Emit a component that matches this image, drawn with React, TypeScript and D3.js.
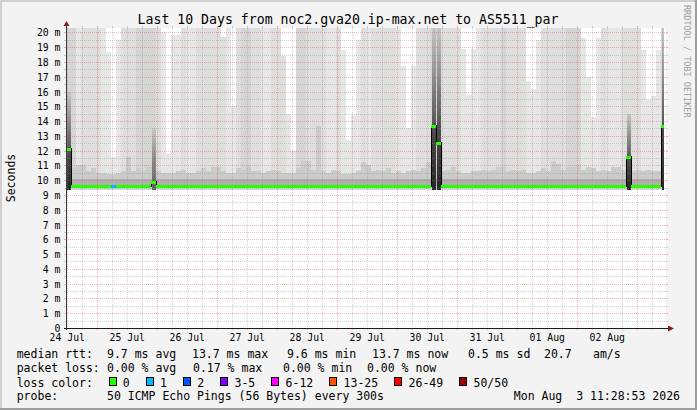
import * as d3 from 'd3';

// 10 days, one value per 2 hour step
const START = new Date(2026, 6, 24, 11, 28, 53);
const END = new Date(2026, 7, 3, 11, 28, 53);
const STEP_HOURS = 2;

// median rtt per step (ms)
const medianMs = [
  12.1, 9.6, 9.6, 9.6, 9.6, 9.6, 9.6, 9.6, 9.6, 9.6,
  9.6, 9.6, 9.6, 9.6, 9.6, 9.6, 9.6, 9.9, 9.6, 9.6,
  9.6, 9.6, 9.6, 9.6, 9.6, 9.6, 9.6, 9.6, 9.6, 9.6,
  9.6, 9.6, 9.6, 9.6, 9.6, 9.6, 9.6, 9.6, 9.6, 9.6,
  9.6, 9.6, 9.6, 9.6, 9.6, 9.6, 9.6, 9.6, 9.6, 9.6,
  9.6, 9.6, 9.6, 9.6, 9.6, 9.6, 9.6, 9.6, 9.6, 9.6,
  9.6, 9.6, 9.6, 9.6, 9.6, 9.6, 9.6, 9.6, 9.6, 9.6,
  9.6, 9.6, 9.6, 13.7, 12.5, 9.6, 9.6, 9.6, 9.6, 9.6,
  9.6, 9.6, 9.6, 9.6, 9.6, 9.6, 9.6, 9.6, 9.6, 9.6,
  9.6, 9.6, 9.6, 9.6, 9.6, 9.6, 9.6, 9.6, 9.6, 9.6,
  9.6, 9.6, 9.6, 9.6, 9.6, 9.6, 9.6, 9.6, 9.6, 9.6,
  9.6, 9.6, 11.6, 9.6, 9.6, 9.6, 9.6, 9.6, 9.6, 13.7,
];

// highest ping per step (ms); 21 = above the top of the graph
const maxPingMs = [
  21, 21, 21, 21, 21, 21, 21, 21, 18.7, 11.6,
  19.5, 21, 21, 21, 21, 21, 21, 21, 21, 20.0,
  11.8, 19.8, 19.8, 21, 21, 21, 21, 21, 21, 21,
  21, 19.7, 21, 15.0, 21, 21, 21, 21, 21, 21,
  21, 21, 21, 18.4, 14.5, 12.0, 21, 21, 21, 21,
  21, 21, 21, 21, 21, 18.8, 12.7, 14.4, 19.5, 21,
  21, 21, 21, 21, 21, 21, 21, 17.7, 13.5, 17.7,
  21, 21, 21, 21, 21, 21, 21, 21, 21, 18.9,
  15.8, 18.9, 21, 21, 21, 21, 21, 21, 21, 21,
  21, 21, 16.7, 16.2, 19.5, 21, 21, 21, 21, 21,
  21, 21, 21, 19.6, 17.0, 14.3, 19.6, 21, 21, 21,
  21, 21, 21, 21, 21, 18.8, 15.4, 15.7, 18.8, 21,
];

// shade of the upper smoke: 0 light, 1 mid, 2 dark
const smokeTone = [
  2, 2, 0, 1, 1, 1, 1, 0, 0, 0,
  0, 1, 1, 1, 2, 2, 2, 2, 1, 0,
  0, 0, 0, 1, 0, 0, 1, 1, 1, 1,
  1, 1, 0, 0, 1, 2, 2, 1, 1, 0,
  0, 1, 1, 1, 0, 0, 2, 2, 1, 1,
  1, 1, 0, 0, 1, 0, 0, 0, 0, 1,
  0, 1, 1, 1, 1, 1, 0, 0, 0, 0,
  1, 1, 1, 2, 2, 1, 1, 1, 1, 0,
  0, 0, 0, 1, 1, 1, 1, 2, 1, 1,
  1, 1, 0, 0, 0, 1, 1, 1, 1, 1,
  2, 2, 2, 0, 0, 0, 0, 1, 0, 0,
  0, 1, 1, 1, 1, 0, 0, 0, 0, 2,
];

// top of the dense smoke near the median (ms)
const denseTopMs = [
  11.0, 10.8, 11.0, 11.0, 10.6, 10.8, 10.5, 10.5, 10.4, 10.4,
  10.5, 10.6, 11.6, 10.6, 10.8, 10.6, 10.9, 10.9, 10.6, 10.5,
  10.5, 10.5, 10.6, 10.7, 10.5, 10.5, 10.6, 10.8, 10.6, 10.9,
  10.9, 10.6, 10.5, 10.5, 10.8, 10.7, 11.0, 10.6, 10.6, 10.5,
  10.6, 10.7, 10.6, 10.5, 10.5, 10.5, 10.8, 11.3, 11.3, 10.7,
  13.7, 10.6, 10.5, 10.7, 10.6, 10.4, 10.4, 10.5, 10.6, 11.2,
  11.0, 10.6, 10.7, 10.6, 10.8, 10.5, 10.6, 10.5, 10.6, 10.7,
  10.6, 10.8, 11.2, 10.8, 10.8, 10.6, 10.7, 10.9, 10.6, 10.5,
  10.5, 10.6, 10.6, 10.7, 10.6, 10.7, 10.9, 10.9, 10.6, 10.7,
  10.6, 10.7, 10.5, 10.5, 10.6, 10.8, 10.6, 11.3, 11.1, 10.7,
  10.9, 10.9, 11.0, 10.7, 10.9, 10.8, 10.6, 10.7, 10.6, 10.9,
  10.9, 10.7, 10.6, 10.6, 10.7, 10.6, 10.7, 10.6, 10.6, 10.8,
];

// loss class per step (index into lossColors)
const lossClass = [
  0, 0, 0, 0, 0, 0, 0, 0, 0, 1,
  0, 0, 0, 0, 0, 0, 0, 0, 0, 0,
  0, 0, 0, 0, 0, 0, 0, 0, 0, 0,
  0, 0, 0, 0, 0, 0, 0, 0, 0, 0,
  0, 0, 0, 0, 0, 0, 0, 0, 0, 0,
  0, 0, 0, 0, 0, 0, 0, 0, 0, 0,
  0, 0, 0, 0, 0, 0, 0, 0, 0, 0,
  0, 0, 0, 0, 0, 0, 0, 0, 0, 0,
  0, 0, 0, 0, 0, 0, 0, 0, 0, 0,
  0, 0, 0, 0, 0, 0, 0, 0, 0, 0,
  0, 0, 0, 0, 0, 0, 0, 0, 0, 0,
  0, 0, 0, 0, 0, 0, 0, 0, 0, 0,
];

// steps where the whole ping spread went up (shade 0 dark, 1 soft)
const spikeSteps = [0, 17, 73, 74, 112, 119];
const spikeTopMs = [16.0, 13.5, 21, 21, 14.5, 21];
const spikeShade = [0, 1, 0, 0, 0, 0];

const yTickLabels = ['0', '1 m', '2 m', '3 m', '4 m', '5 m', '6 m', '7 m', '8 m', '9 m', '10 m',
  '11 m', '12 m', '13 m', '14 m', '15 m', '16 m', '17 m', '18 m', '19 m', '20 m'];
const xTickLabels = ['24 Jul', '25 Jul', '26 Jul', '27 Jul', '28 Jul', '29 Jul', '30 Jul', '31 Jul', '01 Aug', '02 Aug'];

const lossLabels = ['0', '1', '2', '3-5', '6-12', '13-25', '26-49', '50/50'];
const lossColors = ['#26ff00', '#00b8ff', '#0059ff', '#7e00ff', '#ff00ff', '#ff5500', '#ff0000', '#a10000'];

const rttItems = ['median rtt:', '9.7 ms avg', '13.7 ms max', '9.6 ms min', '13.7 ms now', '0.5 ms sd', '20.7', 'am/s'];
const lossItems = ['packet loss:', '0.00 % avg', '0.17 % max', '0.00 % min', '0.00 % now'];
const probeText = '50 ICMP Echo Pings (56 Bytes) every 300s';
const stampText = 'Mon Aug  3 11:28:53 2026';
const titleText = 'Last 10 Days from noc2.gva20.ip-max.net to AS5511_par';

const FONT = '"DejaVu Sans Mono", monospace';
const toneFill = ['#e6e6e6', '#dedede', '#d5d5d5'];
const rttX = [16.7, 107, 192, 287, 372, 468, 544, 593];
const lossX = [16.7, 107, 193, 283, 367];

export default function App() {
  const W = 697, H = 410;
  const L = 66, R = 666, T = 28, B = 328;
  const YMAX = 20.3;
  const CW = 6.93;

  const x = d3.scaleTime().domain([START, END]).range([L, R]);
  const y = d3.scaleLinear().domain([0, YMAX]).range([B, T]);
  const bx = (i: number) => Math.round(x(d3.timeHour.offset(START, STEP_HOURS * i)));
  const py = (v: number) => Math.round(y(Math.min(v, YMAX)));
  const hy = (v: number) => Math.round(y(v)) + 0.5;

  const base = 9.6;
  const lowMs = 9.35;

  // grid
  const minorH = d3.range(0.5, YMAX, 0.5).filter(v => v % 1 !== 0);
  const majorH = d3.range(1, YMAX, 1);
  const majorV = d3.timeDay.range(START, END);
  const minorV = d3.timeHour.every(6)!.range(START, END).filter(t => t.getHours() !== 0);
  const vx = (t: Date) => Math.round(x(t)) + 0.5;

  const gridC = 'rgba(140,140,140,0.4)';
  const mgridC = 'rgba(224,80,80,0.42)';

  // legend boxes
  const boxX: number[] = [];
  let bxPos = 108.5;
  lossLabels.forEach(l => { boxX.push(bxPos); bxPos += 14.3 + l.length * CW + 16; });

  const day0 = d3.timeDay.floor(START);

  return (
    <svg width={W} height={H} style={{ position: 'absolute', left: 0, top: 0, display: 'block' }}
      fontFamily={FONT}>
      <defs>
        <linearGradient id="spike0" x1="0" y1="1" x2="0" y2="0">
          <stop offset="0" stopColor="#262626" />
          <stop offset="0.35" stopColor="#4a4a4a" />
          <stop offset="0.7" stopColor="#8e8e8e" />
          <stop offset="1" stopColor="#c6c6c6" />
        </linearGradient>
        <linearGradient id="spike1" x1="0" y1="1" x2="0" y2="0">
          <stop offset="0" stopColor="#606060" />
          <stop offset="0.5" stopColor="#8a8a8a" />
          <stop offset="1" stopColor="#c8c8c8" />
        </linearGradient>
        <clipPath id="plot">
          <rect x={L} y={T} width={664 - L} height={B - T} />
        </clipPath>
      </defs>

      {/* frame */}
      <rect x={0} y={0} width={W} height={H} fill="#f3f3f3" />
      <rect x={0} y={0} width={W} height={2} fill="#cfcfcf" />
      <rect x={0} y={0} width={2} height={H} fill="#cfcfcf" />
      <rect x={0} y={H - 2} width={W} height={2} fill="#9e9e9e" />
      <rect x={W - 2} y={0} width={2} height={H} fill="#9e9e9e" />

      {/* canvas */}
      <rect x={L} y={T} width={R - L} height={B - T} fill="#ffffff" />

      {/* smoke */}
      <g clipPath="url(#plot)" shapeRendering="crispEdges">
        {medianMs.map((_, i) => {
          const x0 = bx(i), x1 = bx(i + 1);
          return (
            <g key={i}>
              <rect x={x0} y={py(base)} width={x1 - x0} height={py(lowMs) - py(base)} fill="#d6d6d6" />
              <rect x={x0} y={py(maxPingMs[i])} width={x1 - x0} height={py(base) - py(maxPingMs[i])}
                fill={toneFill[smokeTone[i]]} />
              <rect x={x0} y={py(denseTopMs[i])} width={x1 - x0} height={py(base) - py(denseTopMs[i])}
                fill="#cbcbcb" />
              <rect x={x0} y={py(10.05)} width={x1 - x0} height={py(base) - py(10.05)} fill="#b0b0b0" />
            </g>
          );
        })}
        {spikeSteps.map((s, k) => (
          <rect key={'s' + k} x={bx(s) + 1} y={py(spikeTopMs[k])} width={bx(s + 1) - bx(s) - 1}
            height={py(lowMs) - py(spikeTopMs[k])} fill={`url(#spike${spikeShade[k]})`} />
        ))}
      </g>

      {/* grid */}
      <g shapeRendering="crispEdges" strokeWidth={1}>
        {minorH.map(v => (
          <g key={'mh' + v}>
            <line x1={L} x2={R} y1={hy(v)} y2={hy(v)} stroke={gridC} strokeDasharray="1 1" />
            <line x1={L - 2} x2={L} y1={hy(v)} y2={hy(v)} stroke={gridC} />
            <line x1={R} x2={R + 2} y1={hy(v)} y2={hy(v)} stroke={gridC} />
          </g>
        ))}
        {minorV.map(t => (
          <g key={'mv' + t.getTime()}>
            <line x1={vx(t)} x2={vx(t)} y1={T} y2={B} stroke={gridC} strokeDasharray="1 1" />
            <line x1={vx(t)} x2={vx(t)} y1={B} y2={B + 2} stroke={gridC} />
            <line x1={vx(t)} x2={vx(t)} y1={T - 2} y2={T} stroke={gridC} />
          </g>
        ))}
        {majorH.map(v => (
          <g key={'Mh' + v}>
            <line x1={L} x2={R} y1={hy(v)} y2={hy(v)} stroke={mgridC} strokeDasharray="1 1" />
            <line x1={L - 2} x2={L} y1={hy(v)} y2={hy(v)} stroke={mgridC} />
            <line x1={R} x2={R + 2} y1={hy(v)} y2={hy(v)} stroke={mgridC} />
          </g>
        ))}
        {majorV.map(t => (
          <g key={'Mv' + t.getTime()}>
            <line x1={vx(t)} x2={vx(t)} y1={T} y2={B} stroke={mgridC} strokeDasharray="1 1" />
            <line x1={vx(t)} x2={vx(t)} y1={B} y2={B + 2} stroke={mgridC} />
            <line x1={vx(t)} x2={vx(t)} y1={T - 2} y2={T} stroke={mgridC} />
          </g>
        ))}
      </g>

      {/* median line */}
      <g clipPath="url(#plot)" shapeRendering="crispEdges">
        {medianMs.map((m, i) => i === 0 ? null : (
          Math.abs(py(m) - py(medianMs[i - 1])) > 1 ? (
            <line key={'c' + i} x1={bx(i) + 0.5} x2={bx(i) + 0.5}
              y1={Math.min(py(m), py(medianMs[i - 1])) - 1} y2={Math.max(py(m), py(medianMs[i - 1])) + 1}
              stroke="#000" strokeWidth={1} />
          ) : null
        ))}
        {medianMs.map((m, i) => (
          <rect key={'m' + i} x={bx(i)} y={py(m) - 1.5} width={bx(i + 1) - bx(i)} height={3}
            fill={lossColors[lossClass[i]]} />
        ))}
      </g>

      {/* axes */}
      <g shapeRendering="crispEdges">
        <line x1={L + 0.5} x2={L + 0.5} y1={B + 2} y2={T - 3} stroke="#3a3a3a" />
        <line x1={L - 2} x2={R + 2} y1={B + 0.5} y2={B + 0.5} stroke="#1a1a1a" />
      </g>
      <polygon points={`${L + 0.5},${T - 7} ${L - 2.5},${T - 2} ${L + 3.5},${T - 2}`} fill="#8c1c1c" />
      <polygon points={`${R + 8},${B + 0.5} ${R + 2},${B - 2.5} ${R + 2},${B + 3.5}`} fill="#8c1c1c" />

      {/* y labels */}
      <g fontSize={9.8} textAnchor="end" fill="#000">
        {yTickLabels.map((lab, k) => (
          <text key={lab} x={60.5} y={hy(k) + 3.3}>{lab}</text>
        ))}
      </g>
      {/* x labels */}
      <g fontSize={9.8} textAnchor="middle" fill="#000">
        {xTickLabels.map((lab, k) => (
          <text key={lab} x={x(d3.timeHour.offset(day0, 12 + 24 * k))} y={340.5}>{lab}</text>
        ))}
      </g>

      {/* title and side texts */}
      <text x={348} y={24} fontSize={13.2} textAnchor="middle" fill="#000" xmlSpace="preserve">{titleText}</text>
      <text transform="translate(15,178) rotate(-90)" fontSize={11.5} textAnchor="middle" fill="#000">Seconds</text>
      <text transform="translate(684,5) rotate(90)" fontSize={8.5} fill="#9c9c9c">RRDTOOL / TOBI OETIKER</text>

      {/* legend */}
      <g fontSize={11.5} fill="#000">
        {rttItems.map((s, k) => <text key={'r' + k} x={rttX[k]} y={358.3} xmlSpace="preserve">{s}</text>)}
        {lossItems.map((s, k) => <text key={'l' + k} x={lossX[k]} y={372.3} xmlSpace="preserve">{s}</text>)}
        <text x={16.7} y={386.5}>loss color:</text>
        {lossLabels.map((lab, k) => (
          <g key={'b' + k}>
            <rect x={boxX[k] + 0.5} y={377.5} width={7} height={8} fill={lossColors[k]} stroke="#000"
              shapeRendering="crispEdges" />
            <text x={boxX[k] + 14.3} y={386.5}>{lab}</text>
          </g>
        ))}
        <text x={16.7} y={400}>probe:</text>
        <text x={107} y={400} xmlSpace="preserve">{probeText}</text>
        <text x={680} y={400} textAnchor="end" xmlSpace="preserve">{stampText}</text>
      </g>
    </svg>
  );
}
